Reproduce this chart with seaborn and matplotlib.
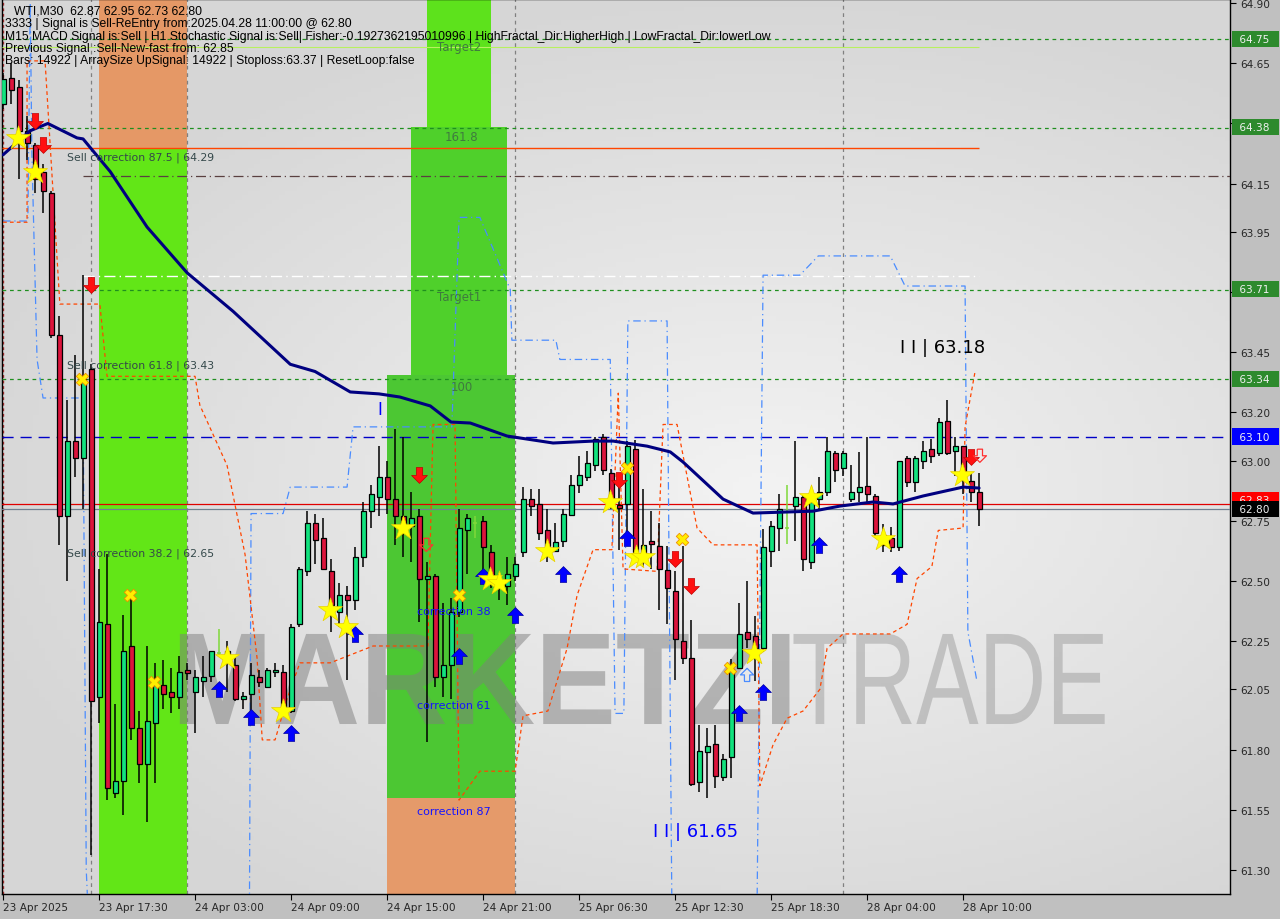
import numpy as np
import pandas as pd
import matplotlib
matplotlib.use("Agg")
import matplotlib.pyplot as plt
import matplotlib.transforms as mtransforms
from matplotlib.colors import LinearSegmentedColormap
from matplotlib.textpath import TextPath
from matplotlib.patches import PathPatch
from matplotlib.font_manager import FontProperties
import seaborn as sns

# ---- données (WTI M30, barre 0 = 23 Apr 2025 11:30) ----
opens = [64.48, 64.59, 64.55, 64.37, 64.31, 64.20, 64.11, 63.52, 62.77, 63.08,
         63.01, 63.38, 62.02, 62.32, 61.62, 61.67, 62.23, 61.89, 61.74, 61.91,
         62.07, 62.04, 62.02, 62.13, 62.04, 62.085, 62.105, 62.20, 62.19, 62.15,
         62.01, 62.03, 62.10, 62.06, 62.12, 62.12, 61.96, 62.32, 62.54, 62.74,
         62.68, 62.54, 62.37, 62.44, 62.42, 62.60, 62.79, 62.85, 62.93, 62.84,
         62.77, 62.73, 62.77, 62.51, 62.52, 62.10, 62.15, 62.37, 62.71, 62.74,
         62.75, 62.62, 62.50, 62.48, 62.52, 62.62, 62.84, 62.82, 62.71, 62.625,
         62.665, 62.775, 62.90, 62.93, 62.98, 63.10, 62.95, 62.815, 62.82, 63.05,
         62.60, 62.665, 62.645, 62.545, 62.46, 62.25, 62.18, 61.665, 61.79, 61.825,
         61.685, 61.77, 62.14, 62.29, 62.27, 62.22, 62.625, 62.72, 62.72, 62.81,
         62.85, 62.58, 62.84, 62.87, 63.03, 62.97, 62.84, 62.87, 62.895, 62.855,
         62.69, 62.68, 62.64, 63.01, 62.91, 63.00, 63.05, 63.03, 63.165, 63.04,
         63.06, 62.915, 62.87]
highs = [64.61, 64.65, 64.58, 64.43, 64.32, 64.23, 64.12, 63.60, 63.25, 63.44,
         63.77, 63.40, 62.55, 62.61, 61.99, 62.36, 62.44, 61.96, 62.23, 62.16,
         62.17, 62.14, 62.19, 62.16, 62.13, 62.19, 62.21, 62.30, 62.25, 62.18,
         62.04, 62.16, 62.13, 62.14, 62.16, 62.15, 62.32, 62.56, 62.79, 62.78,
         62.76, 62.59, 62.49, 62.48, 62.64, 62.83, 62.90, 63.06, 63.00, 63.13,
         63.10, 62.87, 62.80, 62.58, 62.53, 62.41, 62.43, 62.80, 62.78, 62.77,
         62.77, 62.65, 62.53, 62.60, 62.60, 62.89, 62.88, 62.88, 62.80, 62.74,
         62.80, 62.94, 63.02, 63.04, 63.10, 63.11, 62.965, 62.895, 63.08, 63.085,
         62.88, 62.79, 62.74, 62.645, 62.54, 62.645, 62.34, 61.90, 61.89, 61.90,
         61.78, 62.175, 62.41, 62.50, 62.355, 62.715, 62.75, 62.86, 62.90, 63.08,
         62.86, 62.85, 62.93, 63.10, 63.04, 63.04, 62.98, 63.035, 63.10, 62.86,
         62.735, 62.725, 63.00, 63.02, 63.02, 63.08, 63.09, 63.175, 63.25, 63.10,
         63.06, 62.945, 62.95]
lows = [64.46, 64.48, 64.17, 64.25, 64.11, 64.03, 63.51, 62.65, 62.50, 62.93,
        62.80, 61.36, 61.91, 61.59, 61.60, 61.53, 61.84, 61.66, 61.50, 61.66,
        61.97, 61.95, 61.97, 62.09, 61.87, 62.02, 62.08, 62.19, 62.04, 62.00,
        61.97, 61.94, 62.06, 62.06, 62.10, 61.955, 61.95, 62.31, 62.52, 62.57,
        62.55, 62.29, 62.31, 62.09, 62.38, 62.56, 62.72, 62.77, 62.78, 62.65,
        62.60, 62.58, 62.33, 61.83, 62.06, 62.02, 62.01, 62.35, 62.53, 62.68,
        62.54, 62.47, 62.42, 62.40, 62.50, 62.60, 62.77, 62.67, 62.58, 62.62,
        62.64, 62.77, 62.865, 62.915, 62.955, 62.94, 62.80, 62.63, 62.645, 62.60,
        62.56, 62.55, 62.38, 62.32, 62.09, 62.155, 61.65, 61.625, 61.60, 61.64,
        61.67, 61.68, 62.135, 62.22, 62.085, 62.205, 62.56, 62.625, 62.655, 62.665,
        62.54, 62.55, 62.80, 62.855, 62.91, 62.935, 62.83, 62.83, 62.83, 62.685,
        62.62, 62.62, 62.625, 62.89, 62.87, 62.965, 62.99, 63.02, 63.025, 62.935,
        62.86, 62.83, 62.73]
closes = [64.585, 64.54, 64.37, 64.32, 64.17, 64.12, 63.52, 62.77, 63.08, 63.01,
          63.34, 62.00, 62.33, 61.64, 61.67, 62.21, 61.89, 61.74, 61.92, 62.07,
          62.03, 62.02, 62.12, 62.12, 62.10, 62.10, 62.21, 62.20, 62.21, 62.01,
          62.02, 62.11, 62.08, 62.13, 62.13, 61.96, 62.31, 62.55, 62.74, 62.67,
          62.55, 62.40, 62.44, 62.42, 62.60, 62.79, 62.86, 62.93, 62.84, 62.77,
          62.72, 62.76, 62.51, 62.52, 62.10, 62.15, 62.37, 62.72, 62.76, 62.74,
          62.64, 62.52, 62.48, 62.53, 62.57, 62.84, 62.81, 62.70, 62.645, 62.66,
          62.78, 62.90, 62.94, 62.99, 63.09, 62.96, 62.83, 62.81, 63.06, 62.62,
          62.65, 62.66, 62.55, 62.47, 62.26, 62.18, 61.655, 61.795, 61.815, 61.69,
          61.76, 62.135, 62.28, 62.26, 62.22, 62.64, 62.73, 62.80, 62.72, 62.85,
          62.59, 62.83, 62.87, 63.04, 62.96, 63.03, 62.87, 62.89, 62.86, 62.70,
          62.65, 62.64, 63.00, 62.91, 63.01, 63.04, 63.02, 63.16, 63.03, 63.06,
          62.92, 62.87, 62.80]
doji_bars = [27, 59, 98]

# moyenne mobile (points relevés)
ma_bar = [0, 3.4, 5.6, 9.25, 10, 13.4, 18, 23, 28.75, 35.9, 39, 43.4, 47, 49.6,
          53.4, 56, 58.4, 63, 68.75, 73.75, 76.25, 80.5, 83.4, 85, 90, 93.75,
          97.5, 101.25, 104.6, 108.75, 111.25, 115, 120, 122]
ma_val = [64.27, 64.37, 64.40, 64.34, 64.336, 64.20, 63.97, 63.78, 63.62, 63.40,
          63.37, 63.285, 63.277, 63.264, 63.227, 63.16, 63.156, 63.102, 63.073,
          63.081, 63.081, 63.06, 63.036, 62.994, 62.84, 62.782, 62.786, 62.79,
          62.811, 62.828, 62.82, 62.853, 62.89, 62.886]

# canal bas (orange) et canal haut (bleu)
low_ch_bar = [0, 3, 3, 5.25, 7.1, 12.1, 13, 24, 24.6, 28, 30.25, 31.75, 32.4, 34,
              35.5, 37.1, 40.9, 46.25, 53.1, 53.75, 56.5, 57, 59.6, 64, 65, 68.1,
              70.5, 71.75, 73.75, 76.1, 76.9, 77.5, 81.75, 82.5, 84.25, 86.75,
              88.75, 94.25, 94.6, 96.25, 98, 100, 102.1, 103, 105, 110.9, 113,
              114.25, 116.1, 116.9, 120, 120.25, 121.5]
low_ch_val = [63.99, 63.99, 64.66, 64.66, 63.65, 63.65, 63.35, 63.35, 63.23, 62.98,
              62.61, 62.18, 61.84, 61.84, 62.01, 62.16, 62.16, 62.23, 62.23, 63.15,
              63.15, 61.59, 61.71, 61.71, 61.94, 61.96, 62.22, 62.44, 62.63, 62.63,
              63.28, 62.55, 62.54, 63.15, 63.15, 62.72, 62.65, 62.65, 61.65, 61.82,
              61.93, 61.96, 62.05, 62.22, 62.28, 62.28, 62.32, 62.51, 62.56, 62.71,
              62.72, 63.14, 63.37]
up_ch_bar = [0, 3.1, 3.4, 3.6, 4.25, 5, 10, 10.4, 10.6, 30.8, 31, 35, 35.9, 43,
             43.75, 56.1, 57, 59.6, 63.4, 63.6, 69.1, 69.6, 75.9, 76.5, 77.6, 78.1,
             83, 83.6, 94.25, 95, 99.6, 101.9, 110.9, 112.75, 120.25, 120.6, 121.75]
up_ch_val = [63.995, 63.995, 64.90, 64.28, 63.42, 63.26, 63.26, 61.30, 61.15, 61.15,
             62.78, 62.78, 62.89, 62.89, 63.14, 63.14, 64.01, 64.01, 63.71, 63.50,
             63.50, 63.42, 63.42, 61.95, 61.95, 63.58, 63.58, 61.15, 61.15, 63.77,
             63.77, 63.85, 63.85, 63.725, 63.725, 62.29, 62.08]

# zones (barre début, barre fin, bas, haut)
zone_start = [12, 12, 48, 48, 51, 53]
zone_end = [23, 23, 64, 64, 63, 61]
zone_low = [61.20, 64.293, 61.60, 61.20, 63.356, 64.385]
zone_high = [64.293, 64.92, 63.356, 61.60, 64.385, 64.92]
zone_color = ["#62e617", "#e59866", "#4cc733", "#e59a6a", "#4fd02b", "#5de21c"]

# niveaux horizontaux
green_levels = [64.75, 64.38, 63.71, 63.34]
price_ticks = [64.90, 64.65, 64.40, 64.15, 63.95, 63.70, 63.45, 63.20, 63.00,
               62.75, 62.50, 62.25, 62.05, 61.80, 61.55, 61.30]
time_ticks = list(range(0, 121, 12))
time_labels = ["23 Apr 2025", "23 Apr 17:30", "24 Apr 03:00", "24 Apr 09:00",
               "24 Apr 15:00", "24 Apr 21:00", "25 Apr 06:30", "25 Apr 12:30",
               "25 Apr 18:30", "28 Apr 04:00", "28 Apr 10:00"]
separator_bars = [11, 23, 64, 105]

# signaux
sell_bar = [4, 5, 11, 52, 77, 84, 86, 121]
sell_val = [64.41, 64.31, 63.73, 62.94, 62.92, 62.59, 62.48, 63.015]
buy_bar = [27, 31, 36, 44, 57, 60, 64, 70, 78, 92, 95, 102, 112]
buy_val = [62.05, 61.935, 61.87, 62.28, 62.19, 62.52, 62.36, 62.53, 62.68, 61.95,
           62.04, 62.65, 62.53]
star_bar = [1.9, 4, 28, 35, 40.9, 42.9, 50, 60.9, 62, 68, 75.9, 79.1, 80, 93.9,
            101, 110, 119.9]
star_val = [64.34, 64.20, 62.18, 61.96, 62.38, 62.31, 62.72, 62.51, 62.49, 62.625,
            62.83, 62.60, 62.60, 62.20, 62.85, 62.675, 62.94]
cross_bar = [9.9, 15.9, 18.9, 57, 78, 84.9, 90.9]
cross_val = [63.34, 62.44, 62.08, 62.44, 62.97, 62.675, 62.14]

header = ["WTI,M30  62.87 62.95 62.73 62.80",
          "3333 | Signal is Sell-ReEntry from:2025.04.28 11:00:00 @ 62.80",
          "M15 MACD Signal is:Sell | H1 Stochastic Signal is:Sell| Fisher:-0.1927362195010996 | HighFractal_Dir:HigherHigh | LowFractal_Dir:lowerLow",
          "Previous Signal :Sell-New-fast from: 62.85",
          "Bars: 14922 | ArraySize UpSignal: 14922 | Stoploss:63.37 | ResetLoop:false"]

# ---- figure ----
sns.set_theme(style="white")
plt.rcParams["font.family"] = ["DejaVu Sans"]

fig = plt.figure(figsize=(12.8, 9.2), dpi=100, facecolor="#c0c0c0")
ax = fig.add_axes([0.0016, 0.02717, 0.9594, 0.97283])
XMIN, XMAX, YMIN, YMAX = -0.125, 153.375, 61.20, 64.917

# fond en dégradé
gy, gx = np.mgrid[0:1:200j, 0:1:200j]
r = np.sqrt(((gx - 0.62) / 0.9) ** 2 + ((gy - 0.45) / 0.75) ** 2)
bg = LinearSegmentedColormap.from_list("bg", ["#f3f3f3", "#d6d6d6"])
ax.imshow(r, cmap=bg, extent=[0, 1, 0, 1], transform=ax.transAxes,
          aspect="auto", zorder=0, vmin=0, vmax=0.75, origin="lower")

# zones colorées
for s, e, lo, hi, c in zip(zone_start, zone_end, zone_low, zone_high, zone_color):
    ax.fill_between([s, e], lo, hi, color=c, lw=0, zorder=1)


# filigrane (texte étiré dans une boîte)
def watermark(txt, weight, x0, x1, y0, y1, color, alpha):
    tp = TextPath((0, 0), txt, size=100,
                  prop=FontProperties(family="Liberation Sans", weight=weight))
    ext = tp.get_extents()
    tr = (mtransforms.Affine2D().translate(-ext.x0, -ext.y0)
          .scale((x1 - x0) / ext.width, (y1 - y0) / ext.height).translate(x0, y0))
    ax.add_patch(PathPatch(tr.transform_path(tp), fc=color, ec="none",
                           alpha=alpha, zorder=2))


watermark("MARKETZI", "bold", 22.1, 98.3, 61.906, 62.28, "#7e7e7e", 0.5)
watermark("TRADE", "normal", 98.8, 137.7, 61.906, 62.28, "#9c9c9c", 0.5)

# séparateurs verticaux
for b in separator_bars:
    ax.axvline(b, color="#808080", ls=(0, (3, 3)), lw=0.9, zorder=2)
ax.axvline(0, color="#b03030", ls=(0, (2, 2)), lw=1.0, zorder=2)

# niveaux
for lv in green_levels:
    ax.axhline(lv, color="#1f8f1f", ls=(0, (3, 3)), lw=0.9, zorder=3)
ax.hlines(64.30, XMIN, 122, color="#ff4500", lw=1.0, zorder=3)
ax.hlines(64.718, XMIN, 122, color="#b8f060", lw=0.8, zorder=3)
ax.hlines(64.18, 10, XMAX, color="#5a4040", ls=(0, (8, 3, 1, 3)), lw=0.9, zorder=3)
ax.hlines(63.767, 10, 122, color="#ffffff", ls=(0, (8, 3, 1, 3)), lw=1.0, zorder=3)
ax.axhline(63.10, color="#0000c8", ls=(0, (8, 5)), lw=1.0, zorder=3)
ax.axhline(62.82, color="#e00000", lw=0.9, zorder=3)
ax.axhline(62.80, color="#708090", lw=0.9, zorder=3)

# canaux
ax.plot(up_ch_bar, up_ch_val, color="#4a8cff", ls=(0, (6, 3, 1, 3)), lw=0.9, zorder=4)
ax.plot(low_ch_bar, low_ch_val, color="#ff4500", ls=(0, (3, 2.5)), lw=0.9, zorder=4)

# bougies
df = pd.DataFrame({"bar": np.arange(len(opens)), "open": opens, "high": highs,
                   "low": lows, "close": closes})
df["doji"] = df["bar"].isin(doji_bars)
candles = df[~df["doji"]]
up = candles[candles["close"] >= candles["open"]]
down = candles[candles["close"] < candles["open"]]
ax.vlines(candles["bar"], candles["low"], candles["high"], color="black", lw=1.1, zorder=5)
ax.bar(up["bar"], (up["close"] - up["open"]).clip(lower=0.012), bottom=up["open"],
       width=0.62, color="#12e27e", edgecolor="black", lw=0.9, zorder=6)
ax.bar(down["bar"], (down["close"] - down["open"]).clip(upper=-0.012), bottom=down["open"],
       width=0.62, color="#dc143c", edgecolor="black", lw=0.9, zorder=6)
dj = df[df["doji"]]
ax.vlines(dj["bar"], dj["low"], dj["high"], color="#7fd83a", lw=1.1, zorder=5)
ax.hlines(dj["open"], dj["bar"] - 0.3, dj["bar"] + 0.3, color="#7fd83a", lw=1.1, zorder=5)

# moyenne mobile
sns.lineplot(x=ma_bar, y=ma_val, ax=ax, color="#000080", lw=2.2, sort=False,
             estimator=None, zorder=7)

# signaux
down_arrow = [(-0.2, 0.5), (0.2, 0.5), (0.2, 0.0), (0.5, 0.0), (0.0, -0.5),
              (-0.5, 0.0), (-0.2, 0.0), (-0.2, 0.5)]
up_arrow = [(x, -y) for x, y in down_arrow]
ax.scatter(sell_bar, sell_val, marker=down_arrow, s=130, color="#ff1010",
           edgecolor="#c00000", lw=0.5, zorder=8)
ax.scatter(buy_bar, buy_val, marker=up_arrow, s=130, color="#0000ff",
           edgecolor="#0000a0", lw=0.5, zorder=8)
ax.scatter([52.9, 122.1], [62.65, 63.02], marker=down_arrow, s=90, facecolor="none",
           edgecolor="#ff3030", lw=0.9, zorder=8)
ax.scatter([93], [62.11], marker=up_arrow, s=90, facecolor="none",
           edgecolor="#4a8cff", lw=0.9, zorder=8)
sns.scatterplot(x=star_bar, y=star_val, ax=ax, marker="*", s=330, color="#ffff00",
                edgecolor="#e8d000", linewidth=0.5, zorder=9)
sns.scatterplot(x=cross_bar, y=cross_val, ax=ax, marker="X", s=80, color="#ffee00",
                edgecolor="#f09000", linewidth=0.6, zorder=9)

# textes
txt_grey = "#34484a"
for lvl, yv in [("87.5 | 64.29", 64.261), ("61.8 | 63.43", 63.397), ("38.2 | 62.65", 62.616)]:
    ax.text(8, yv, "Sell correction " + lvl, fontsize=7.8, color=txt_grey,
            ha="left", va="center", zorder=10)
for t, xb, yv in [("Target2", 54.25, 64.718), ("161.8", 55.25, 64.348),
                  ("Target1", 54.25, 63.68), ("100", 55.9, 63.306)]:
    ax.text(xb, yv, t, fontsize=8.5, color="#3f7a3f", ha="left", va="center", zorder=10)
for t, yv in [("correction 38", 62.375), ("correction 61", 61.985), ("correction 87", 61.545)]:
    ax.text(51.75, yv, t, fontsize=8, color="#1414ff", ha="left", va="center", zorder=10)
ax.text(112.1, 63.472, "I I | 63.18", fontsize=13, color="black", ha="left", va="center", zorder=10)
ax.text(81.25, 61.462, "I I | 61.65", fontsize=13, color="#0000ff", ha="left", va="center", zorder=10)
ax.text(47.1, 63.214, "I", fontsize=12, color="#0000ff", ha="center", va="center", zorder=10)
ax.text(1.9, 61.185, "0 New Buy Wave started", fontsize=8, color="#0000ff",
        ha="left", va="center", zorder=10, clip_on=True)

for k, line in enumerate(header):
    fig.text((14 if k == 0 else 5) / 1280, 1 - (12 + 12.3 * k) / 920, line,
             fontsize=8.75, color="black", ha="left", va="center",
             family="Liberation Sans")

# axes
ax.set_xlim(XMIN, XMAX)
ax.set_ylim(YMIN, YMAX)
ax.yaxis.tick_right()
ax.set_yticks(price_ticks)
ax.set_yticklabels([f"{v:.2f}" for v in price_ticks])
ax.set_xticks(time_ticks)
ax.set_xticklabels(time_labels, ha="left")
ax.tick_params(axis="both", labelsize=7.6, length=4, width=0.8, color="black",
               direction="out", pad=2, bottom=True, right=True)
ax.tick_params(axis="y", pad=3)
ax.set_xlabel("")
ax.set_ylabel("")
for sp in ax.spines.values():
    sp.set_color("black")
    sp.set_linewidth(1.0)
ax.grid(False)

# étiquettes de prix à droite (elles masquent les graduations voisines, comme sur l'original)
trans = mtransforms.blended_transform_factory(ax.transAxes, ax.transData)
for val, txt, fc in [(64.75, "64.75", "#2d8a2d"), (64.385, "64.38", "#2d8a2d"),
                     (63.713, "63.71", "#2d8a2d"), (63.339, "63.34", "#2d8a2d"),
                     (63.10, "63.10", "#0000ff"), (62.835, "62.83", "#ff0000"),
                     (62.80, "62.80", "#000000")]:
    ax.text(1.0045, val, " " + txt + "  ", transform=trans, fontsize=7.6, color="#f0f0f0",
            ha="left", va="center", clip_on=False, zorder=20,
            bbox=dict(boxstyle="square,pad=0.3", fc=fc, ec="none"))

fig.savefig("out.png", dpi=100, facecolor=fig.get_facecolor())
